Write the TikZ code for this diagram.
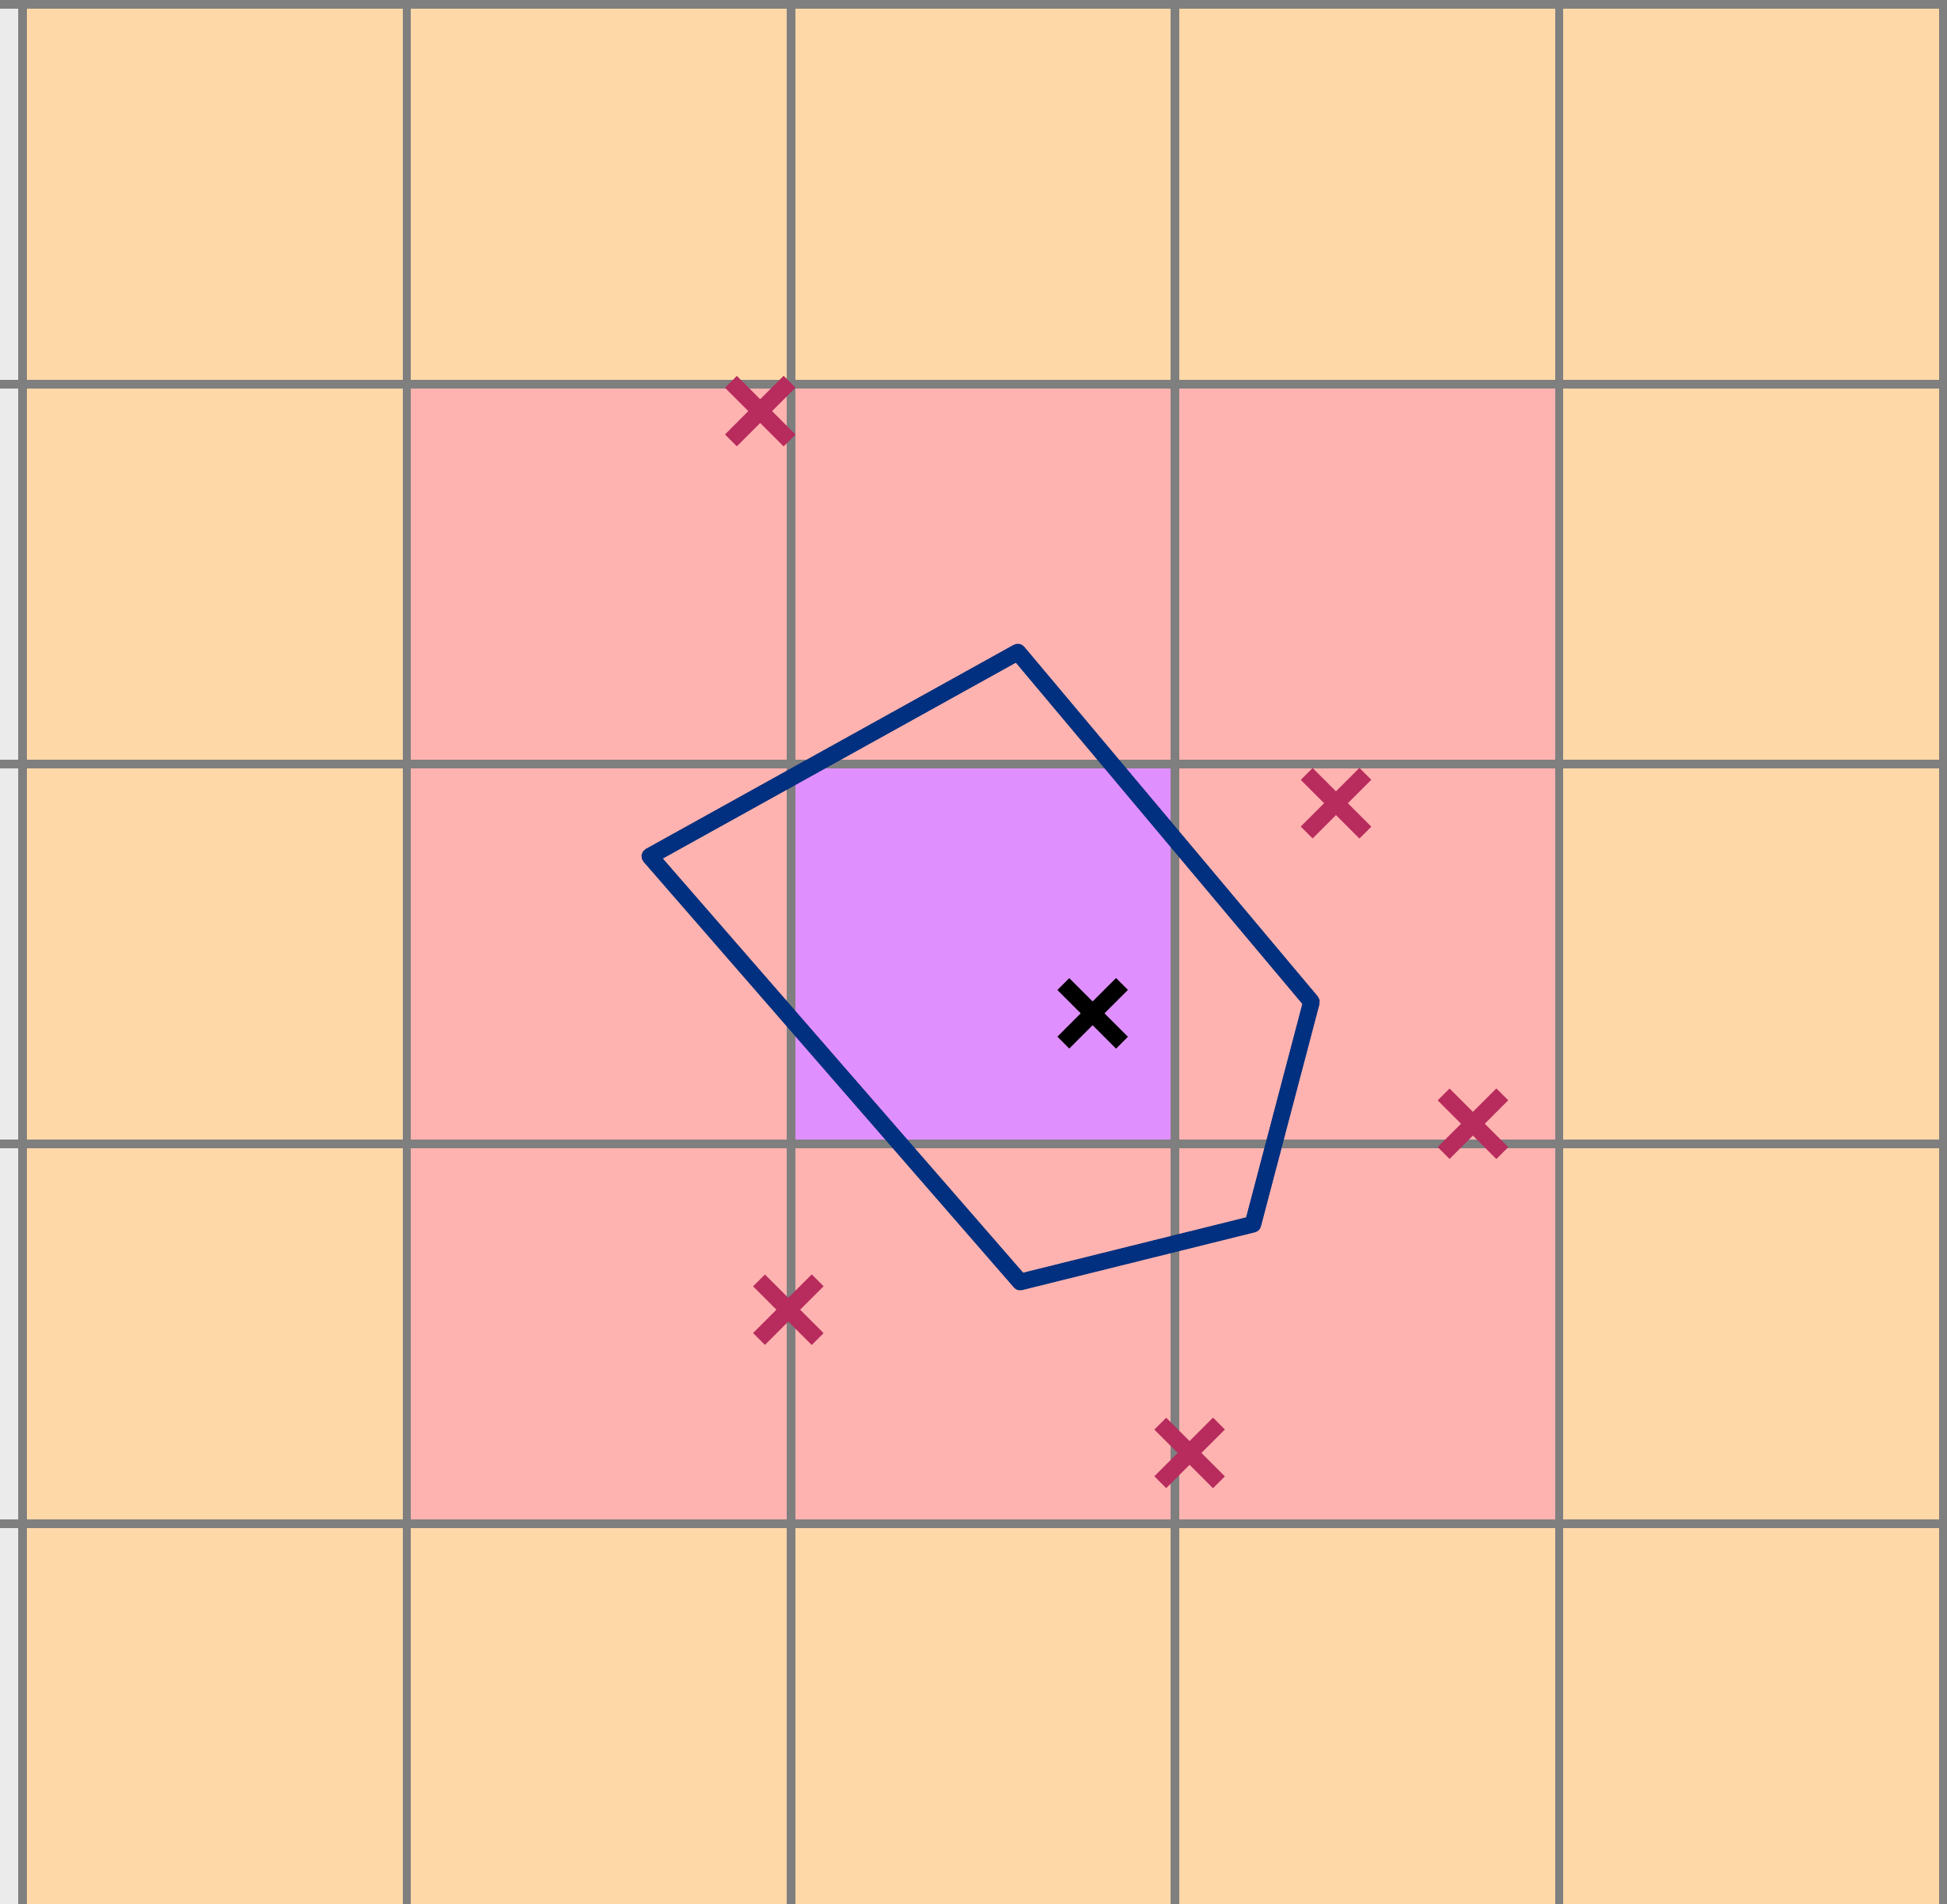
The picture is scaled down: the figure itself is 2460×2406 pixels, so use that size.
\documentclass[tikz,border=0pt]{standalone}
\definecolor{bgstrip}{HTML}{EBEBEB}
\definecolor{peach}{HTML}{FFD8A8}
\definecolor{pinkcell}{HTML}{FFB3B0}
\definecolor{purplecell}{HTML}{E08FFF}
\definecolor{gridgray}{HTML}{7F7F7F}
\definecolor{crossred}{HTML}{B72B5D}
\definecolor{polyblue}{HTML}{00307F}
\tikzset{
  gridline/.style={draw=gridgray, line width=1.05mm},
  polyline/.style={draw=polyblue, line width=2.1mm, line join=round},
  crossmark/.pic={\draw[line width=2.1mm, line cap=butt] (-37,-37)--(37,37) (-37,37)--(37,-37);}
}
\begin{document}
\begin{tikzpicture}[x=0.1mm,y=-0.1mm]
\useasboundingbox (0,0) rectangle (2460,2406);
\clip (0,0) rectangle (2460,2406);
\fill[bgstrip] (0,0) rectangle (2460,2406);
\fill[peach] (28.5,5.5) rectangle (2455.5,2406);
\fill[pinkcell] (513.9,485.5) rectangle (1970.1,1925.5);
\fill[purplecell] (999.3,965.5) rectangle (1484.7,1445.5);
\foreach \x in {28.5,513.9,999.3,1484.7,1970.1,2455.5}
  \draw[gridline] (\x,0) -- (\x,2406);
\foreach \y in {5.5,485.5,965.5,1445.5,1925.5}
  \draw[gridline] (0,\y) -- (2460,\y);
% polygon
\coordinate (v1) at (821,1082);
\coordinate (v2) at (1286,824);
\coordinate (v3) at (1657,1266);
\coordinate (v4) at (1583,1547);
\coordinate (v5) at (1289,1620);
\draw[polyline] (v1) -- (v2) -- (v3) -- (v4) -- (v5) -- cycle;
% crosses
\pic[draw=crossred] at (960.5,519.5) {crossmark};
\pic[draw=crossred] at (1688,1015) {crossmark};
\pic[draw=crossred] at (1861,1420) {crossmark};
\pic[draw=crossred] at (996,1655) {crossmark};
\pic[draw=crossred] at (1503,1836) {crossmark};
\pic[draw=black] at (1380.5,1280.5) {crossmark};
\end{tikzpicture}
\end{document}
